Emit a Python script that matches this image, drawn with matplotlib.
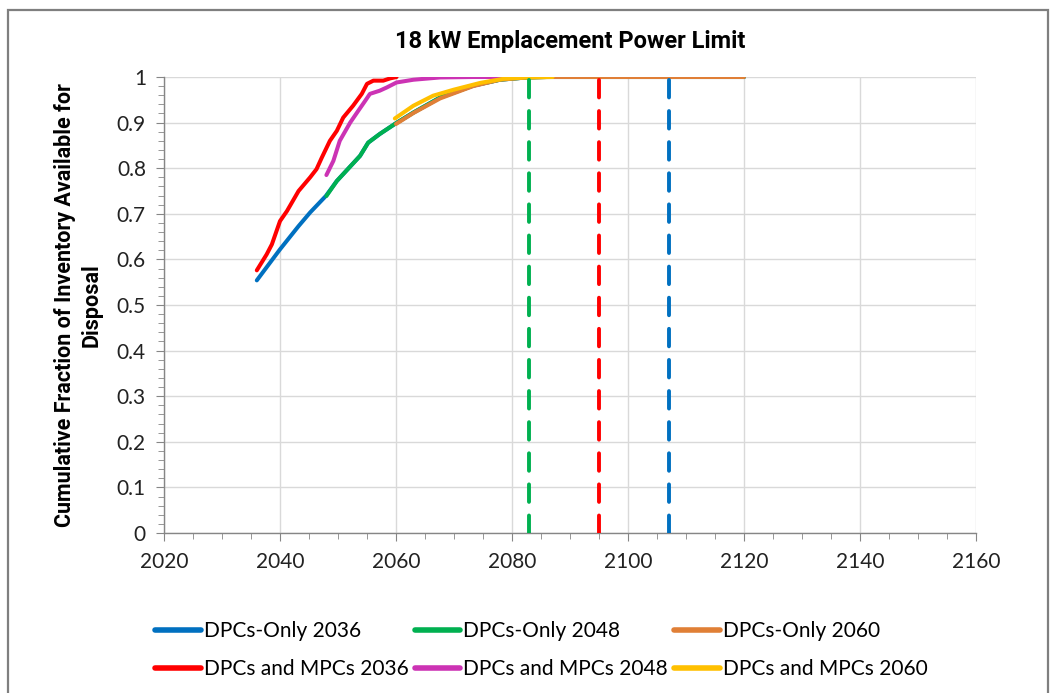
import matplotlib
matplotlib.use("Agg")
import matplotlib.pyplot as plt
from matplotlib.ticker import MultipleLocator
from matplotlib.patches import Rectangle

plt.rcParams['font.family'] = ['Lato', 'DejaVu Sans']

# ---- data ----
common_years = [2036.0, 2040.0, 2043.2, 2045.2, 2047.9, 2049.8, 2053.8, 2055.2, 2057.2,
                2059.8, 2063.0, 2067.6, 2073.3, 2077.9, 2082.5, 2086.0, 2120.0]
common_frac = [0.554, 0.622, 0.673, 0.703, 0.739, 0.772, 0.827, 0.856, 0.875,
               0.897, 0.922, 0.955, 0.981, 0.994, 0.999, 1.0, 1.0]

dpc2036_years = common_years
dpc2036_frac = common_frac

dpc2048_years = [2048.0, 2049.8, 2053.8, 2055.2, 2057.2, 2059.8, 2063.0, 2067.6, 2073.3,
                 2077.9, 2082.5, 2086.0, 2120.0]
dpc2048_frac = [0.739, 0.772, 0.827, 0.856, 0.875, 0.897, 0.922, 0.955, 0.981,
                0.994, 0.999, 1.0, 1.0]

dpc2060_years = [2060.0, 2063.0, 2067.6, 2073.3, 2077.9, 2082.5, 2086.0, 2120.0]
dpc2060_frac = [0.897, 0.921, 0.953, 0.980, 0.994, 0.999, 1.0, 1.0]

mpc2036_years = [2036.0, 2037.7, 2038.6, 2040.0, 2041.2, 2043.2, 2045.2, 2046.3, 2047.2,
                 2048.6, 2049.8, 2050.9, 2052.6, 2054.1, 2055.0, 2056.1, 2057.8, 2059.0, 2060.1]
mpc2036_frac = [0.576, 0.611, 0.633, 0.684, 0.706, 0.750, 0.780, 0.798, 0.823,
                0.860, 0.882, 0.911, 0.937, 0.963, 0.985, 0.992, 0.992, 0.997, 1.0]

mpc2048_years = [2048.0, 2049.2, 2050.3, 2052.1, 2053.5, 2054.7, 2055.5, 2057.2, 2058.4,
                 2060.1, 2063.0, 2067.6, 2073.3, 2079.0]
mpc2048_frac = [0.785, 0.816, 0.860, 0.900, 0.926, 0.948, 0.963, 0.970, 0.977,
                0.988, 0.994, 0.999, 1.0, 1.0]

mpc2060_years = [2059.8, 2063.0, 2066.4, 2069.9, 2074.5, 2078.5, 2082.5, 2087.0]
mpc2060_frac = [0.909, 0.937, 0.959, 0.972, 0.987, 0.996, 0.999, 1.0]

limit_years = [2083, 2095, 2107]
limit_colors = ['#00B050', '#FF0000', '#0070C0']

series_labels = ['DPCs-Only 2036', 'DPCs-Only 2048', 'DPCs-Only 2060',
                 'DPCs and MPCs 2036', 'DPCs and MPCs 2048', 'DPCs and MPCs 2060']
series_colors = ['#0070C0', '#00B050', '#E07F36', '#FF0000', '#CC33B4', '#FFC000']

title = '18 kW Emplacement Power Limit'
ylabel = 'Cumulative Fraction of Inventory Available for\nDisposal'

# ---- figure ----
fig = plt.figure(figsize=(10.56, 6.93), dpi=100)
fig.patches.append(Rectangle((8 / 1056, -0.01), (1048 - 8) / 1056, 1 - 10 / 693 + 0.01,
                             transform=fig.transFigure, fill=False,
                             edgecolor='#7f7f7f', linewidth=1.6))
ax = fig.add_axes([164 / 1056, (693 - 533) / 693, (976 - 164) / 1056, (533 - 77) / 693])

xs = [dpc2036_years, dpc2048_years, dpc2060_years, mpc2036_years, mpc2048_years, mpc2060_years]
ys = [dpc2036_frac, dpc2048_frac, dpc2060_frac, mpc2036_frac, mpc2048_frac, mpc2060_frac]
handles = []
for x, y, c, lab in zip(xs, ys, series_colors, series_labels):
    h, = ax.plot(x, y, color=c, lw=2.9, label=lab, solid_capstyle='round', zorder=3)
    handles.append(h)

for yr, c in zip(limit_years, limit_colors):
    ax.plot([yr, yr], [0, 1], color=c, lw=2.8, dashes=(4.5, 3.5),
            dash_capstyle='round', zorder=4)

ax.set_xlim(2020, 2160)
ax.set_ylim(0, 1)
ax.xaxis.set_major_locator(MultipleLocator(20))
ax.xaxis.set_minor_locator(MultipleLocator(5))
ax.yaxis.set_minor_locator(MultipleLocator(0.02))
ax.set_yticks([i / 10 for i in range(11)])
ax.set_yticklabels(['0', '0.1', '0.2', '0.3', '0.4', '0.5', '0.6', '0.7', '0.8', '0.9', '1'])
ax.grid(True, which='major', color='#d9d9d9', lw=1.0, zorder=0)
ax.set_axisbelow(True)
for s in ['top', 'right']:
    ax.spines[s].set_visible(False)
for s in ['left', 'bottom']:
    ax.spines[s].set_color('#868686')
    ax.spines[s].set_linewidth(1.0)
ax.tick_params(which='major', direction='out', length=6, color='#868686',
               labelsize=15, labelcolor='#222222')
ax.tick_params(axis='x', which='major', pad=8)
ax.tick_params(axis='y', which='major', pad=7)
ax.tick_params(which='minor', direction='out', length=4, color='#868686')

bold_family = ['Roboto', 'DejaVu Sans']
ax.set_title(title, fontsize=17, fontweight='bold', pad=21, family=bold_family)
ax.set_ylabel(ylabel, fontsize=15.5, fontweight='bold', labelpad=10, linespacing=1.3,
              family=bold_family)

order = [0, 3, 1, 4, 2, 5]
leg = fig.legend([handles[i] for i in order], [series_labels[i] for i in order],
                 loc='lower left', bbox_to_anchor=(155 / 1056, 14 / 693), ncol=3,
                 frameon=False, fontsize=15, handlelength=2.2, handletextpad=0.15,
                 columnspacing=0.28, labelspacing=0.85, borderpad=0, borderaxespad=0)
for h in leg.get_lines():
    h.set_linewidth(4)

fig.savefig('out.png', dpi=100)
